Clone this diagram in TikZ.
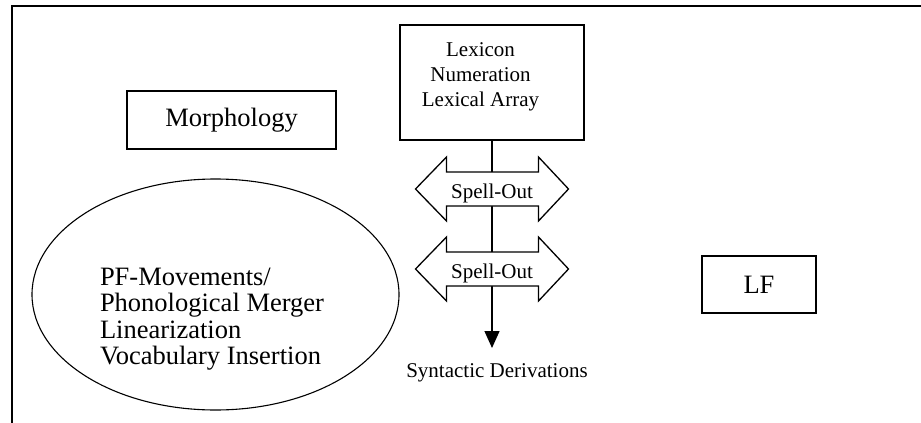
\documentclass[tikz,border=0pt]{standalone}
\usepackage{fontspec}
\setmainfont{Liberation Serif}
\usetikzlibrary{positioning,shapes.geometric,arrows.meta}

\begin{document}
\begin{tikzpicture}
  [x=1pt,y=-1pt,
   box/.style={rectangle,draw,line width=1.3pt,inner sep=0pt},
   big/.style={font=\fontsize{26.5}{26.5}\selectfont},
   small/.style={font=\fontsize{21}{25}\selectfont},
   spellbox/.style={draw,fill=white,line width=1.3pt,line join=miter}]
  \useasboundingbox (0,0) rectangle (921,423);
  \draw[line width=1.8pt] (930,6) -| (12,430);

  \node[box,minimum width=184pt,minimum height=115pt] (lexicon) at (492,82.5) {};
  \node[small,align=center,inner sep=0pt] (lexlist) at (480.5,77)
       {Lexicon\\Numeration\\Lexical Array};
  \node[box,big,minimum width=209pt,minimum height=58pt] (morph) at (231.5,120) {Morphology};
  \node[box,big,minimum width=114pt,minimum height=57pt] (lf) at (759,284.5) {LF};

  \node[ellipse,draw,line width=1.1pt,minimum width=367pt,minimum height=231pt,
        inner sep=0pt] (pf) at (215.5,294.5) {};
  \node[big,align=left,inner sep=0pt] (pflist) at (212,319)
       {PF-Movements/\\Phonological Merger\\Linearization\\Vocabulary Insertion};

  \coordinate (tip) at (492,348);
  \draw[line width=1.3pt,-{Triangle[width=15pt,length=17pt]}] (lexicon) -- (tip);

  % the two double arrows, white, over the line
  \foreach \n/\y in {1/189,2/269} {
    \coordinate (so\n) at (492,\y);
    \draw[spellbox] (so\n) ++(-76.5,0) -- ++(31,-32) -- ++(0,15) -- ++(92,0)
      -- ++(0,-15) -- ++(30,32) -- ++(-30,32) -- ++(0,-15) -- ++(-92,0)
      -- ++(0,15) -- cycle;
    \node[small,inner sep=0pt] (spellout\n) at ([yshift=-4pt]so\n) {Spell-Out};
  }

  \node[small,inner sep=0pt] (synt) at (497,373) {Syntactic Derivations};
\end{tikzpicture}
\end{document}
